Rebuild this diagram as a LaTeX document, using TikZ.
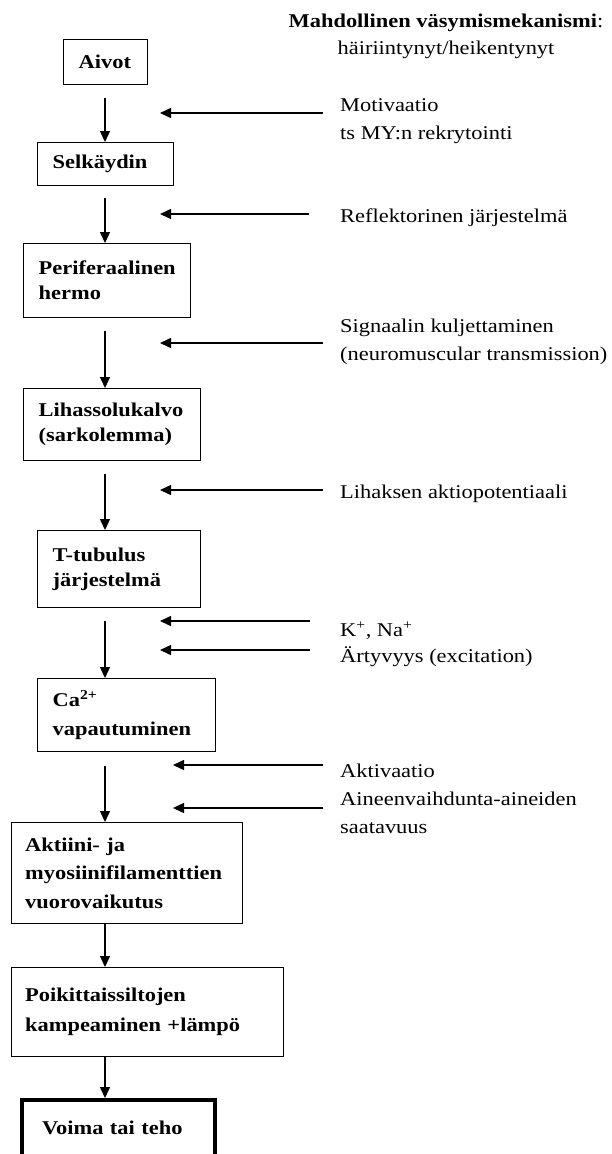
\documentclass[tikz,border=0pt]{standalone}
\usepackage{fontspec}
\setmainfont{Liberation Serif}[FakeStretch=1.15]
\usetikzlibrary{arrows.meta}
\newcommand{\nohyph}{\hyphenpenalty 10000 \exhyphenpenalty 10000 \relax}
\newcommand{\boxfont}[1]{\fontsize{19.5}{#1}\selectfont\bfseries\nohyph}
\begin{document}
\begin{tikzpicture}[x=1pt,y=-1pt,
  box/.style={draw, line width=1.4pt, anchor=north west, inner xsep=15pt, inner ysep=0pt,
    align=left, font=\boxfont{27}},
  note/.style={anchor=north west, inner sep=0pt, align=left,
    font=\fontsize{19.5}{28}\selectfont\nohyph},
  arr/.style={line width=1.4pt, -{Triangle[length=11pt,width=10pt]}}]
\useasboundingbox (0,0) rectangle (611,1154);
\clip (0,0) rectangle (611,1154);
\fill[white] (0,0) rectangle (611,1154);

% header
\node[anchor=north, inner sep=0pt, align=center, font=\fontsize{19.5}{27}\selectfont] (head) at (446,8.4)
  {\strut\textbf{Mahdollinen väsymismekanismi}:\\häiriintynyt/heikentynyt};

% boxes
\node[box, minimum width=84pt, minimum height=45pt, text width=54pt] (aivot) at (63,39) {Aivot};
\node[box, minimum width=136pt, minimum height=43pt, text width=106pt] (selk) at (37,142) {Selkäydin};
\node[box, minimum width=167pt, minimum height=74pt, text width=137pt, font=\boxfont{25}] (perif) at (23,243) {Periferaalinen\\hermo};
\node[box, minimum width=177pt, minimum height=72pt, text width=147pt, font=\boxfont{25}] (lihas) at (23,388) {Lihassolukalvo\\(sarkolemma)};
\node[box, minimum width=163pt, minimum height=77pt, text width=133pt, font=\boxfont{25}] (ttub) at (37,530) {T-tubulus\\järjestelmä};
\node[box, minimum width=178pt, minimum height=73pt, text width=148pt, font=\boxfont{29}] (ca) at (37,678) {Ca\textsuperscript{2+}\\vapautuminen};
\node[box, minimum width=231.5pt, minimum height=101pt, text width=203.5pt, inner xsep=14pt, font=\boxfont{28.5}] (akt) at (10.5,822) {Aktiini- ja\\myosiinifilamenttien\\vuorovaikutus};
\node[box, minimum width=272.5pt, minimum height=89pt, text width=244.5pt, inner xsep=14pt, font=\boxfont{30}] (poik) at (10.5,967) {Poikittaissiltojen\\kampeaminen +lämpö};
\node[box, line width=4pt, inner xsep=20pt, text width=153pt, text height=34pt, text depth=30pt] (voima) at (20,1098) {Voima tai teho};

% main flow arrows
\coordinate (ax) at (105,0);
\draw[arr] ([yshift=-13pt]aivot.south -| ax) -- (selk.north -| ax);
\draw[arr] ([yshift=-12pt]selk.south -| ax) -- (perif.north -| ax);
\draw[arr] ([yshift=-13pt]perif.south -| ax) -- (lihas.north -| ax);
\draw[arr] ([yshift=-13pt]lihas.south -| ax) -- (ttub.north -| ax);
\draw[arr] ([yshift=-13pt]ttub.south -| ax) -- (ca.north -| ax);
\draw[arr] ([yshift=-14pt]ca.south -| ax) -- (akt.north -| ax);
\draw[arr] (akt.south -| ax) -- (poik.north -| ax);
\draw[arr] (poik.south -| ax) -- (voima.north -| ax);

% side notes
\node[note] (n1) at (340,91.4) {\strut Motivaatio\\ts MY:n rekrytointi};
\node[note] (n2) at (340,202.4) {\strut Reflektorinen järjestelmä};
\node[note] (n3) at (340,312.4) {\strut Signaalin kuljettaminen\\(neuromuscular transmission)};
\node[note] (n4) at (340,478.4) {\strut Lihaksen aktiopotentiaali};
\node[note, font=\fontsize{19.5}{26}\selectfont\nohyph] (n5) at (340,618.4) {\strut K\textsuperscript{+}, Na\textsuperscript{+}\\Ärtyvyys (excitation)};
\node[note] (n6) at (340,757.4) {\strut Aktivaatio\\Aineenvaihdunta-aineiden\\saatavuus};

% side arrows
\coordinate (s1) at (323,113); \coordinate (t1) at (160,113);
\coordinate (s2) at (309,214); \coordinate (t2) at (160,214);
\coordinate (s3) at (323,343); \coordinate (t3) at (160,343);
\coordinate (s4) at (323,490); \coordinate (t4) at (160,490);
\coordinate (s5) at (310,621); \coordinate (t5) at (160,621);
\coordinate (s6) at (310,650); \coordinate (t6) at (160,650);
\coordinate (s7) at (323,765); \coordinate (t7) at (173,765);
\coordinate (s8) at (323,808); \coordinate (t8) at (173,808);
\foreach \i in {1,...,8} {\draw[arr] (s\i) -- (t\i);}
\end{tikzpicture}
\end{document}
